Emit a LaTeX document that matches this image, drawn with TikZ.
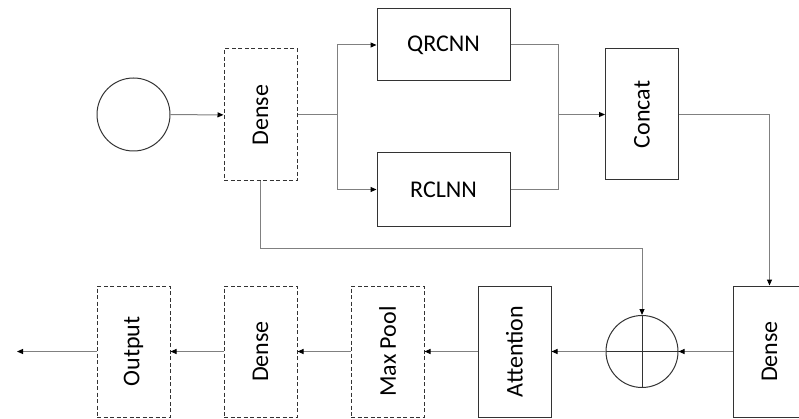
\documentclass[tikz,border=0pt]{standalone}
\usepackage{fontspec}
\setmainfont{Carlito}
\usetikzlibrary{arrows.meta}

\begin{document}
\begin{tikzpicture}[x=1pt, y=1pt,
    block/.style={draw=black!80, line width=1pt, inner sep=0pt, minimum width=73pt, minimum height=131pt, font=\fontsize{24}{28}\selectfont},
    dblock/.style={block, dash pattern=on 4pt off 2.5pt},
    wblock/.style={block, minimum width=133pt, minimum height=72pt},
    ring/.style={draw=black!80, line width=1pt, circle, inner sep=0pt, minimum size=72pt},
    line/.style={draw=black!50, line width=1pt},
    conn/.style={line, -{Triangle[length=6pt, width=5pt, color=black]}}]

    \useasboundingbox (0,0) rectangle (799,418);
    \clip (0,0) rectangle (799,418);

    % top row
    \node[ring, minimum size=73pt] (in) at (133.5,303.5) {};
    \node[dblock, minimum height=132pt] (dense1) at (260.5,303) {\rotatebox{90}{Dense}};
    \node[wblock] (qrcnn) at (443.5,373) {QRCNN};
    \node[wblock, minimum height=73pt] (rclnn) at (443.5,228.5) {RCLNN};
    \node[block] (concat) at (642,303.5) {\rotatebox{90}{Concat}};

    % bottom row
    \node[block] (dense3) at (769.5,66.5) {\rotatebox{90}{Dense}};
    \node[ring] (plus) at (642,66.5) {};
    \node[block] (attn) at (514.5,66.5) {\rotatebox{90}{Attention}};
    \node[dblock] (pool) at (387.5,66.5) {\rotatebox{90}{Max Pool}};
    \node[dblock] (dense2) at (260.5,66.5) {\rotatebox{90}{Dense}};
    \node[dblock] (out) at (133.5,66.5) {\rotatebox{90}{Output}};

    \coordinate (split) at (337,303);
    \coordinate (merge) at (558,303.5);
    \coordinate (fb) at (642,170);
    \coordinate (end) at (17,66.5);

    \draw[black!80, line width=1pt] (plus.north) -- (plus.south) (plus.west) -- (plus.east);

    \draw[conn] (in) -- (dense1);
    \draw[line] (dense1) -- (split);
    \draw[conn] (split) |- (qrcnn);
    \draw[conn] (split) |- (rclnn);
    \draw[line] (qrcnn) -| (merge);
    \draw[line] (rclnn) -| (merge);
    \draw[conn] (merge) -- (concat);
    \draw[conn] (concat) -| (dense3);
    \draw[conn] (dense1) |- (fb) -- (plus);
    \draw[conn] (dense3) -- (plus);
    \draw[conn] (plus) -- (attn);
    \draw[conn] (attn) -- (pool);
    \draw[conn] (pool) -- (dense2);
    \draw[conn] (dense2) -- (out);
    \draw[conn] (out) -- (end);
\end{tikzpicture}
\end{document}
